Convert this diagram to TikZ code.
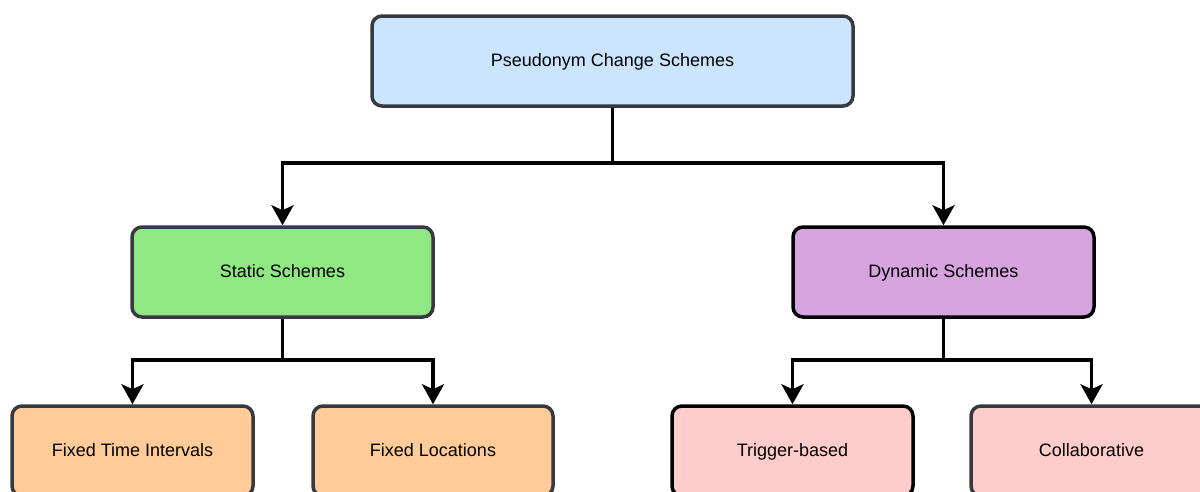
\documentclass[tikz,border=0pt]{standalone}
\usepackage{fontspec}
\setmainfont{Liberation Sans}
\usepackage{tikz}
\usetikzlibrary{arrows.meta}

\definecolor{edgegray}{HTML}{36393D}
\definecolor{rootblue}{HTML}{CCE5FF}
\definecolor{staticgreen}{HTML}{90E883}
\definecolor{dynpurple}{HTML}{D6A5E0}
\definecolor{leaforange}{HTML}{FFCC99}
\definecolor{leafpink}{HTML}{FFCCCC}

\begin{document}
\begin{tikzpicture}[x=1pt,y=-1pt,font=\fontsize{18}{21}\selectfont,
  box/.style n args={3}{draw=#2,fill=#1,line width=3.5pt,rounded corners=10pt,minimum width=#3pt,minimum height=90pt,inner sep=0pt,text height=2.5ex,text depth=.27ex},
  link/.style={line width=3.8pt,-{Stealth[length=20pt,width=22pt,inset=5pt]}},
  stem/.style={line width=3.8pt}]
\useasboundingbox (0,0) rectangle (1200,491);
% top level
\node[box={rootblue}{edgegray}{481}] (pcs) at (612.5,61) {Pseudonym Change Schemes};
% the two families
\node[box={staticgreen}{edgegray}{301}] (static) at (282.5,272) {Static Schemes};
\node[box={dynpurple}{black}{301}] (dynamic) at (943.5,272) {Dynamic Schemes};
% leaves
\node[box={leaforange}{edgegray}{241}] (fixtime) at (132.5,451) {Fixed Time Intervals};
\node[box={leaforange}{edgegray}{240}] (fixloc) at (433,451) {Fixed Locations};
\node[box={leafpink}{black}{241}] (trigger) at (792.5,451) {Trigger-based};
\node[box={leafpink}{edgegray}{241}] (collab) at (1091.5,451) {Collaborative};

\coordinate (split0) at (612.5,163);
\coordinate (split1) at (282.5,360);
\coordinate (split2) at (943.5,360);
\draw[stem] (pcs.south) -- (split0);
\draw[stem] (static.south) -- (split1);
\draw[stem] (dynamic.south) -- (split2);
\foreach \a/\b in {split0/static,split0/dynamic,split1/fixtime,split1/fixloc,split2/trigger,split2/collab} {
  \draw[link,rounded corners=0pt] (\a) -| (\b.north);
}
\end{tikzpicture}
\end{document}
